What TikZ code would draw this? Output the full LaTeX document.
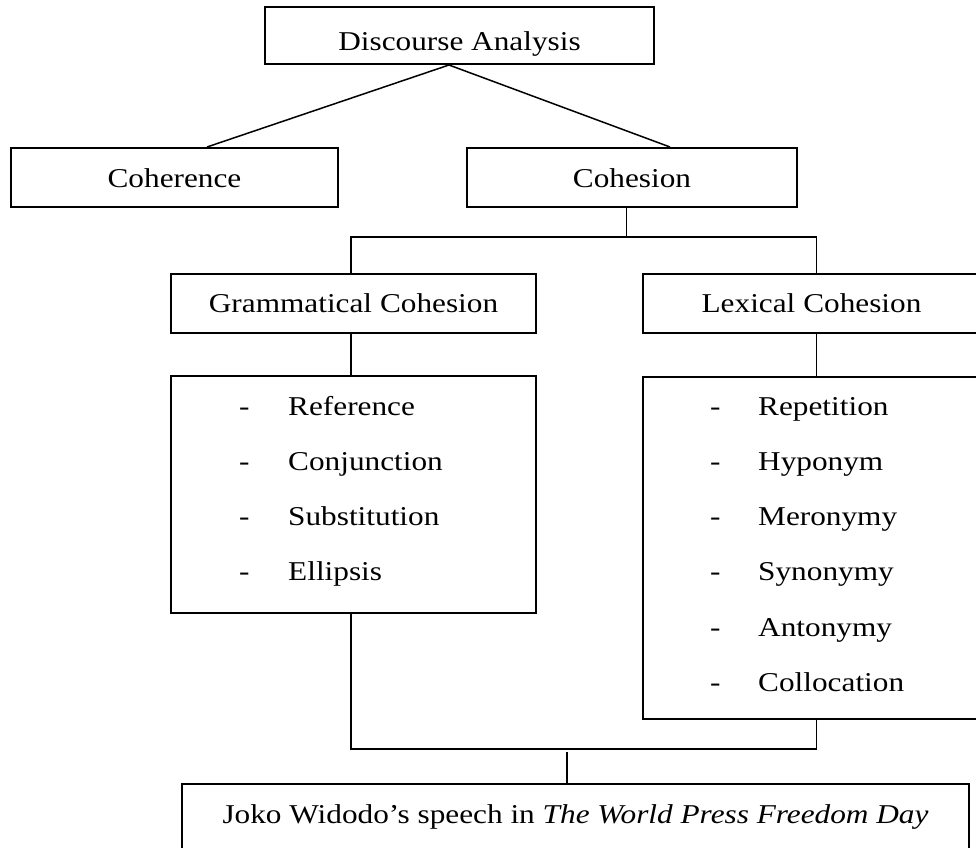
\documentclass[tikz,border=0pt]{standalone}
\usepackage{fontspec}
\setmainfont{Liberation Serif}[FakeStretch=1.15]
\usepackage{tikz}
\usetikzlibrary{positioning}

\begin{document}
\begin{tikzpicture}[x=1pt, y=-1pt, font=\fontsize{27.2}{32}\selectfont]

        % Define style
        \tikzstyle{catbox} = [rectangle, draw, line width=2pt, inner sep=0pt, text height=39pt, text depth=20pt, align=center]
        \tikzstyle{listbox} = [rectangle, draw, line width=2pt, inner sep=0pt, minimum height=237pt]
        \tikzstyle{item} = [inner sep=0pt, anchor=base west]
        \tikzstyle{link} = [line width=1.5pt]

        \useasboundingbox (0,0) rectangle (976,847);

        % Blocks (top to bottom)
        \node[catbox, minimum width=389pt, text height=43pt, text depth=14pt] (analysis) at (459.5,35.5) {Discourse Analysis};
        \node[catbox, minimum width=327pt] (coherence) at (174.5,177.5) {Coherence};
        \node[catbox, minimum width=330pt] (cohesion) at (632,177.5) {Cohesion};
        \node[catbox, minimum width=365pt] (gram) at (353.5,303) {Grammatical Cohesion};
        \node[catbox, minimum width=337pt] (lexical) at (811.5,303) {Lexical Cohesion};
        \node[listbox, minimum width=365pt, below=41pt of gram] (gramlist) {};
        \node[listbox, minimum width=337pt, minimum height=342pt, below=42pt of lexical] (lexlist) {};
        \node[catbox, minimum width=787pt, text depth=27pt] (joko) at (575.5,817) {Joko Widodo’s speech in \textit{The World Press Freedom Day}};

        % Items in the lists
        \foreach \word [count=\k] in {Reference, Conjunction, Substitution, Ellipsis} {
            \node[item] (gdash\k) at (239,415+55.3*\k-55.3) {-};
            \node[item] (gword\k) at (288,415+55.3*\k-55.3) {\word};
        }
        \foreach \word [count=\k] in {Repetition, Hyponym, Meronymy, Synonymy, Antonymy, Collocation} {
            \node[item] (ldash\k) at (710,415+55.3*\k-55.3) {-};
            \node[item] (lword\k) at (758,415+55.3*\k-55.3) {\word};
        }

        % Connectors
        \coordinate (apex) at ([xshift=-10.5pt]analysis.south);
        \draw[link] (apex) -- ([xshift=32.5pt]coherence.north);
        \draw[link] (apex) -- ([xshift=38pt]cohesion.north);
        \draw[link] ([xshift=-5.5pt]cohesion.south) -- ++(0,29) coordinate (fork);
        \draw[link] ([xshift=-2.5pt]gram.north) |- (fork) -| ([xshift=5pt]lexical.north);
        \draw[link] ([xshift=-2.5pt]gram.south) -- ([xshift=-2.5pt]gramlist.north);
        \draw[link] ([xshift=5pt]lexical.south) -- ([xshift=5pt]lexlist.north);
        \coordinate (merge) at (567,749);
        \draw[link] ([xshift=-2.5pt]gramlist.south) |- (merge) -| ([xshift=5pt]lexlist.south);
        \draw[link] ([xshift=-8.5pt]joko.north) -- ++(0,-31);

    \end{tikzpicture}
\end{document}
